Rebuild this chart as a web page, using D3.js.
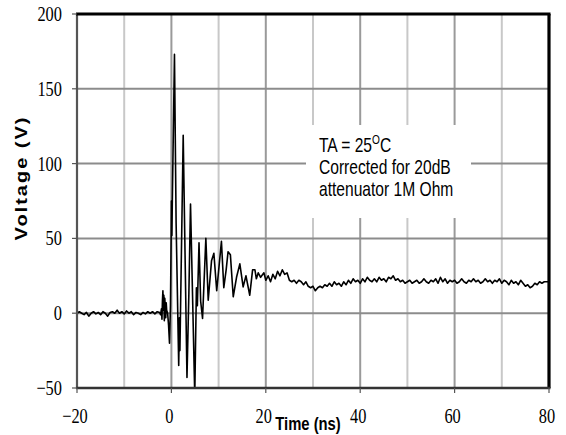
<!DOCTYPE html>
<html>
<head>
<meta charset="utf-8">
<script src="https://cdn.jsdelivr.net/npm/d3@7"></script>
<style>
  body { margin: 0; background: #fff; }
  svg { display: block; }
</style>
</head>
<body>
<svg id="chart" width="566" height="435"></svg>
<script>
// waveform: [time ns, volts]
var preTrigger = [
  [-20, 0], [-19.5, 1], [-19, 0], [-18.5, -1], [-18, 0.5], [-17.5, -2], [-17, 0], [-16.5, 1],
  [-16, -0.5], [-15.5, 0.5], [-15, -1], [-14.5, 1], [-14, 0], [-13.5, -2], [-13, 0.5], [-12.5, 1],
  [-12, 0], [-11.5, 2], [-11, 0], [-10.5, 1], [-10, -0.5], [-9.5, 1.5], [-9, 0], [-8.5, 1],
  [-8, -1], [-7.5, 0.5], [-7, 0], [-6.5, -1], [-6, 0.5], [-5.5, -0.5], [-5, 1], [-4.5, 0],
  [-4, 1], [-3.5, -0.5], [-3, 1]
];
var ringing = [
  [-2.5, 0.5], [-2.3, -1], [-2.1, 3], [-2.0, -4], [-1.9, 8], [-1.8, 15], [-1.7, 2], [-1.6, 12],
  [-1.5, -5], [-1.4, 10], [-1.3, 4], [-1.2, -3], [-1.1, 7], [-1.0, 2], [-0.8, 0], [-0.6, -8],
  [-0.4, -20], [-0.2, 5], [-0.05, 51], [0.0, 75], [0.1, 52], [0.2, 76], [0.65, 173], [1.0, 60],
  [1.55, -35], [1.7, -3], [1.8, -25], [1.9, -5], [2.5, 119], [3.3, -43], [3.7, 13], [4.05, 73],
  [4.95, -55], [5.3, 17], [5.5, 5], [5.85, 47], [6.2, 8], [6.6, -3.5], [7.3, 50], [7.8, 8.7],
  [8.5, 35], [9.0, 40], [9.6, 15], [10.6, 48], [11.1, 17], [11.6, 29], [12.0, 41], [12.5, 39],
  [13.1, 11], [13.8, 24], [14.5, 33], [15.2, 17.6], [15.8, 25], [16.6, 12], [17.2, 29], [17.7, 29],
  [18.0, 23], [18.4, 27], [18.9, 24], [19.6, 27], [20.0, 22]
];
var tail = [
  [20.5, 25], [21, 21], [21.5, 26], [22, 23], [22.5, 28], [23, 25], [23.5, 29], [24, 26],
  [24.5, 27], [25, 22], [25.5, 21], [26, 22], [26.5, 20], [27, 22], [27.5, 21], [28, 19],
  [28.5, 21], [29, 18], [29.5, 17], [30, 18], [30.5, 15], [31, 17], [31.5, 18], [32, 17],
  [32.5, 19], [33, 18], [33.5, 20], [34, 18], [34.5, 21], [35, 19], [35.5, 20], [36, 18],
  [36.5, 21], [37, 19], [37.5, 22], [38, 20], [38.5, 23], [39, 21], [39.5, 22], [40, 20],
  [40.5, 23], [41, 21], [41.5, 24], [42, 22], [42.5, 21], [43, 23], [43.5, 21], [44, 24],
  [44.5, 22], [45, 23], [45.5, 21], [46, 24], [46.5, 23], [47, 25], [47.5, 22], [48, 23],
  [48.5, 21], [49, 22], [49.5, 20], [50, 21], [50.5, 22], [51, 20], [51.5, 21], [52, 22],
  [52.5, 20], [53, 21], [53.5, 23], [54, 21], [54.5, 20], [55, 22], [55.5, 21], [56, 23],
  [56.5, 20], [57, 24], [57.5, 21], [58, 23], [58.5, 20], [59, 22], [59.5, 21], [60, 22],
  [60.5, 20], [61, 21], [61.5, 23], [62, 21], [62.5, 20], [63, 22], [63.5, 21], [64, 23],
  [64.5, 21], [65, 22], [65.5, 20], [66, 21], [66.5, 23], [67, 21], [67.5, 22], [68, 20],
  [68.5, 22], [69, 21], [69.5, 23], [70, 20], [70.5, 22], [71, 21], [71.5, 19], [72, 22],
  [72.5, 20], [73, 21], [73.5, 19], [74, 22], [74.5, 20], [75, 18], [75.5, 19], [76, 17],
  [76.5, 18], [77, 20], [77.5, 19], [78, 21], [78.5, 20], [79, 21], [79.5, 21], [80, 21]
];

var xTicks = [-20, 0, 20, 40, 60, 80];
var yTicks = [-50, 0, 50, 100, 150, 200];
var xGrid = [-10, 0, 10, 20, 30, 40, 50, 60, 70];
var yGrid = [0, 50, 100, 150];
var noteLines = ["Corrected for 20dB", "attenuator 1M Ohm"];

drawChart();

function drawChart(){

  var pLeft = 77, pTop = 14, pRight = 549, pBottom = 388;
  var squeeze = 0.78; // the original text is narrow

  var svg = d3.select("#chart");
  var x = d3.scaleLinear().domain([-20, 80]).range([pLeft, pRight]);
  var y = d3.scaleLinear().domain([-50, 200]).range([pBottom, pTop]);

  function narrowText(px, py, str, size, anchor, family, weight) {
    return svg.append("text")
      .attr("transform", "translate(" + px + "," + py + ") scale(" + squeeze + ",1)")
      .attr("text-anchor", anchor)
      .attr("font-family", family)
      .attr("font-size", size)
      .attr("font-weight", weight || "normal")
      .attr("fill", "#000")
      .text(str);
  }

  // grid
  svg.selectAll("line.vgrid").data(xGrid).enter().append("line")
    .attr("class", "vgrid")
    .attr("x1", function(d){ return x(d); }).attr("x2", function(d){ return x(d); })
    .attr("y1", pTop).attr("y2", pBottom)
    .attr("stroke", function(d){ return d % 20 == 0 ? "#9a9a9a" : "#c8c8c8"; })
    .attr("stroke-width", 2);

  svg.selectAll("line.hgrid").data(yGrid).enter().append("line")
    .attr("class", "hgrid")
    .attr("x1", pLeft).attr("x2", pRight)
    .attr("y1", function(d){ return y(d); }).attr("y2", function(d){ return y(d); })
    .attr("stroke", "#8c8c8c")
    .attr("stroke-width", 2);

  // white patch behind the note
  svg.append("rect").attr("x", 306).attr("y", 125).attr("width", 165).attr("height", 93).attr("fill", "#fff");

  // trace
  svg.append("clipPath").attr("id", "plotclip").append("rect")
    .attr("x", pLeft).attr("y", pTop).attr("width", pRight - pLeft).attr("height", pBottom - pTop);

  var trace = preTrigger.concat(ringing, tail);
  var line = d3.line().x(function(d){ return x(d[0]); }).y(function(d){ return y(d[1]); });
  svg.append("path").datum(trace)
    .attr("d", line)
    .attr("clip-path", "url(#plotclip)")
    .attr("fill", "none")
    .attr("stroke", "#000")
    .attr("stroke-width", 1.6)
    .attr("stroke-linejoin", "round");

  // frame
  svg.append("line").attr("x1", pLeft).attr("x2", pLeft).attr("y1", pTop).attr("y2", pBottom + 1)
    .attr("stroke", "#555").attr("stroke-width", 2.2);
  svg.append("line").attr("x1", pLeft - 1).attr("x2", pRight + 1.5).attr("y1", pTop).attr("y2", pTop)
    .attr("stroke", "#000").attr("stroke-width", 3.2);
  svg.append("line").attr("x1", pRight).attr("x2", pRight).attr("y1", pTop).attr("y2", pBottom)
    .attr("stroke", "#000").attr("stroke-width", 3.2);
  svg.append("line").attr("x1", pLeft - 1).attr("x2", pRight + 1.5).attr("y1", pBottom).attr("y2", pBottom)
    .attr("stroke", "#333").attr("stroke-width", 2.6);

  // ticks
  svg.selectAll("line.xtick").data(xTicks).enter().append("line")
    .attr("class", "xtick")
    .attr("x1", function(d){ return x(d); }).attr("x2", function(d){ return x(d); })
    .attr("y1", pBottom).attr("y2", pBottom + 5)
    .attr("stroke", "#555").attr("stroke-width", 1.2);
  svg.selectAll("line.ytick").data(yTicks).enter().append("line")
    .attr("class", "ytick")
    .attr("x1", pLeft - 5).attr("x2", pLeft)
    .attr("y1", function(d){ return y(d); }).attr("y2", function(d){ return y(d); })
    .attr("stroke", "#555").attr("stroke-width", 1.2);

  var fmt = d3.format("");
  xTicks.forEach(function(d){
    narrowText(x(d) - 2, pBottom + 35, fmt(d), 21, "middle", "Liberation Serif");
  });
  yTicks.forEach(function(d){
    narrowText(pLeft - 15, y(d) + 7, fmt(d), 21, "end", "Liberation Serif");
  });

  // axis titles
  narrowText(308, 430, "Time  (ns)", 19, "middle", "Liberation Sans", "bold");
  svg.append("text")
    .attr("transform", "translate(27,178) scale(" + squeeze + ",1) rotate(-90)")
    .attr("text-anchor", "middle")
    .attr("font-family", "Liberation Sans")
    .attr("font-size", 20)
    .attr("font-weight", "bold")
    .attr("letter-spacing", 2)
    .text("Voltage (V)");

  // note
  var first = narrowText(319, 152, "TA = 25", 20, "start", "Liberation Sans");
  first.append("tspan").attr("font-size", 13).attr("dy", -8).text("O");
  first.append("tspan").attr("dy", 8).text("C");
  noteLines.forEach(function(s, i){
    narrowText(319, 174 + i * 22, s, 20, "start", "Liberation Sans");
  });
}
</script>
</body>
</html>
